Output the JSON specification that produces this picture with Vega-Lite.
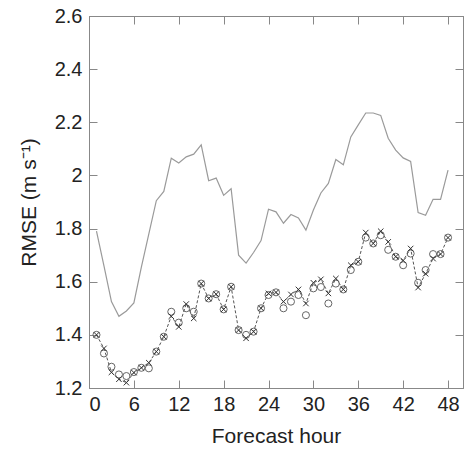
{
  "$schema": "https://vega.github.io/schema/vega-lite/v6.json",
  "width": 374,
  "height": 372,
  "autosize": {"type": "none"},
  "padding": {"left": 89, "top": 16, "right": 1, "bottom": 62},
  "background": "white",
  "config": {
    "view": {"stroke": "#888", "strokeWidth": 1},
    "axis": {
      "labelFont": "Liberation Sans",
      "titleFont": "Liberation Sans",
      "labelFontSize": 20,
      "titleFontSize": 21,
      "titleFontWeight": "normal",
      "labelColor": "#222",
      "titleColor": "#222",
      "domainColor": "#888",
      "tickColor": "#888",
      "grid": false
    }
  },
  "datasets": {
    "upper": [
      {"hour":1,"rmse":1.79},{"hour":2,"rmse":1.66},{"hour":3,"rmse":1.525},{"hour":4,"rmse":1.47},
      {"hour":5,"rmse":1.49},{"hour":6,"rmse":1.52},{"hour":7,"rmse":1.655},{"hour":8,"rmse":1.78},
      {"hour":9,"rmse":1.905},{"hour":10,"rmse":1.94},{"hour":11,"rmse":2.065},{"hour":12,"rmse":2.047},
      {"hour":13,"rmse":2.07},{"hour":14,"rmse":2.08},{"hour":15,"rmse":2.115},{"hour":16,"rmse":1.98},
      {"hour":17,"rmse":1.99},{"hour":18,"rmse":1.925},{"hour":19,"rmse":1.95},{"hour":20,"rmse":1.70},
      {"hour":21,"rmse":1.67},{"hour":22,"rmse":1.71},{"hour":23,"rmse":1.755},{"hour":24,"rmse":1.873},
      {"hour":25,"rmse":1.863},{"hour":26,"rmse":1.82},{"hour":27,"rmse":1.853},{"hour":28,"rmse":1.84},
      {"hour":29,"rmse":1.794},{"hour":30,"rmse":1.87},{"hour":31,"rmse":1.934},{"hour":32,"rmse":1.97},
      {"hour":33,"rmse":2.06},{"hour":34,"rmse":2.04},{"hour":35,"rmse":2.145},{"hour":36,"rmse":2.19},
      {"hour":37,"rmse":2.235},{"hour":38,"rmse":2.235},{"hour":39,"rmse":2.226},{"hour":40,"rmse":2.14},
      {"hour":41,"rmse":2.095},{"hour":42,"rmse":2.066},{"hour":43,"rmse":2.053},{"hour":44,"rmse":1.86},
      {"hour":45,"rmse":1.85},{"hour":46,"rmse":1.91},{"hour":47,"rmse":1.91},{"hour":48,"rmse":2.02}
    ],
    "cross": [
      {"hour":1,"rmse":1.40},{"hour":2,"rmse":1.349},{"hour":3,"rmse":1.259},{"hour":4,"rmse":1.233},
      {"hour":5,"rmse":1.22},{"hour":6,"rmse":1.258},{"hour":7,"rmse":1.276},{"hour":8,"rmse":1.295},
      {"hour":9,"rmse":1.337},{"hour":10,"rmse":1.393},{"hour":11,"rmse":1.47},{"hour":12,"rmse":1.43},
      {"hour":13,"rmse":1.516},{"hour":14,"rmse":1.462},{"hour":15,"rmse":1.593},{"hour":16,"rmse":1.537},
      {"hour":17,"rmse":1.553},{"hour":18,"rmse":1.496},{"hour":19,"rmse":1.581},{"hour":20,"rmse":1.418},
      {"hour":21,"rmse":1.387},{"hour":22,"rmse":1.412},{"hour":23,"rmse":1.50},{"hour":24,"rmse":1.556},
      {"hour":25,"rmse":1.56},{"hour":26,"rmse":1.525},{"hour":27,"rmse":1.552},{"hour":28,"rmse":1.571},
      {"hour":29,"rmse":1.518},{"hour":30,"rmse":1.596},{"hour":31,"rmse":1.609},{"hour":32,"rmse":1.556},
      {"hour":33,"rmse":1.612},{"hour":34,"rmse":1.571},{"hour":35,"rmse":1.662},{"hour":36,"rmse":1.675},
      {"hour":37,"rmse":1.785},{"hour":38,"rmse":1.744},{"hour":39,"rmse":1.79},{"hour":40,"rmse":1.75},
      {"hour":41,"rmse":1.694},{"hour":42,"rmse":1.68},{"hour":43,"rmse":1.725},{"hour":44,"rmse":1.578},
      {"hour":45,"rmse":1.63},{"hour":46,"rmse":1.687},{"hour":47,"rmse":1.704},{"hour":48,"rmse":1.766}
    ],
    "circle": [
      {"hour":1,"rmse":1.40},{"hour":2,"rmse":1.33},{"hour":3,"rmse":1.28},{"hour":4,"rmse":1.251},
      {"hour":5,"rmse":1.245},{"hour":6,"rmse":1.26},{"hour":7,"rmse":1.276},{"hour":8,"rmse":1.274},
      {"hour":9,"rmse":1.337},{"hour":10,"rmse":1.393},{"hour":11,"rmse":1.487},{"hour":12,"rmse":1.446},
      {"hour":13,"rmse":1.50},{"hour":14,"rmse":1.487},{"hour":15,"rmse":1.593},{"hour":16,"rmse":1.537},
      {"hour":17,"rmse":1.553},{"hour":18,"rmse":1.496},{"hour":19,"rmse":1.581},{"hour":20,"rmse":1.418},
      {"hour":21,"rmse":1.40},{"hour":22,"rmse":1.412},{"hour":23,"rmse":1.50},{"hour":24,"rmse":1.55},
      {"hour":25,"rmse":1.56},{"hour":26,"rmse":1.50},{"hour":27,"rmse":1.525},{"hour":28,"rmse":1.55},
      {"hour":29,"rmse":1.474},{"hour":30,"rmse":1.575},{"hour":31,"rmse":1.58},{"hour":32,"rmse":1.518},
      {"hour":33,"rmse":1.593},{"hour":34,"rmse":1.571},{"hour":35,"rmse":1.644},{"hour":36,"rmse":1.675},
      {"hour":37,"rmse":1.766},{"hour":38,"rmse":1.744},{"hour":39,"rmse":1.775},{"hour":40,"rmse":1.72},
      {"hour":41,"rmse":1.694},{"hour":42,"rmse":1.662},{"hour":43,"rmse":1.706},{"hour":44,"rmse":1.596},
      {"hour":45,"rmse":1.644},{"hour":46,"rmse":1.704},{"hour":47,"rmse":1.704},{"hour":48,"rmse":1.766}
    ]
  },
  "resolve": {"axis": {"x": "independent", "y": "independent"}},
  "layer": [
    {
      "data": {"name": "upper"},
      "mark": {"type": "line", "color": "#9a9a9a", "strokeWidth": 1.2},
      "encoding": {
        "x": {"field": "hour", "type": "quantitative",
              "scale": {"domain": [0, 50], "nice": false},
              "axis": {"orient": "bottom", "values": [0,6,12,18,24,30,36,42,48], "tickSize": -8, "labelPadding": 14, "title": "Forecast hour", "titlePadding": 11}},
        "y": {"field": "rmse", "type": "quantitative",
              "scale": {"domain": [1.2, 2.6], "nice": false, "zero": false},
              "axis": {"orient": "left", "values": [1.2,1.4,1.6,1.8,2.0,2.2,2.4,2.6], "format": "~g", "tickSize": -8, "labelPadding": 15, "title": "RMSE (m s⁻¹)", "titlePadding": 15}}
      }
    },
    {
      "data": {"name": "cross"},
      "mark": {"type": "line", "color": "#555", "strokeWidth": 1, "strokeDash": [3, 2]},
      "encoding": {
        "x": {"field": "hour", "type": "quantitative", "scale": {"domain": [0, 50], "nice": false}, "axis": null},
        "y": {"field": "rmse", "type": "quantitative", "scale": {"domain": [1.2, 2.6], "nice": false, "zero": false}, "axis": null}
      }
    },
    {
      "data": {"name": "circle"},
      "mark": {"type": "point", "shape": "circle", "filled": false, "color": "#666", "strokeWidth": 1, "size": 50, "opacity": 1},
      "encoding": {
        "x": {"field": "hour", "type": "quantitative", "scale": {"domain": [0, 50], "nice": false}, "axis": null},
        "y": {"field": "rmse", "type": "quantitative", "scale": {"domain": [1.2, 2.6], "nice": false, "zero": false}, "axis": null}
      }
    },
    {
      "data": {"name": "cross"},
      "mark": {"type": "point", "shape": "M-1,-1L1,1M-1,1L1,-1", "filled": false, "color": "#333", "strokeWidth": 1, "size": 30, "opacity": 1},
      "encoding": {
        "x": {"field": "hour", "type": "quantitative", "scale": {"domain": [0, 50], "nice": false},
              "axis": {"orient": "top", "values": [0,6,12,18,24,30,36,42,48], "tickSize": -8, "labels": false, "title": null}},
        "y": {"field": "rmse", "type": "quantitative", "scale": {"domain": [1.2, 2.6], "nice": false, "zero": false},
              "axis": {"orient": "right", "values": [1.2,1.4,1.6,1.8,2.0,2.2,2.4,2.6], "tickSize": -8, "labels": false, "title": null}}
      }
    }
  ]
}
